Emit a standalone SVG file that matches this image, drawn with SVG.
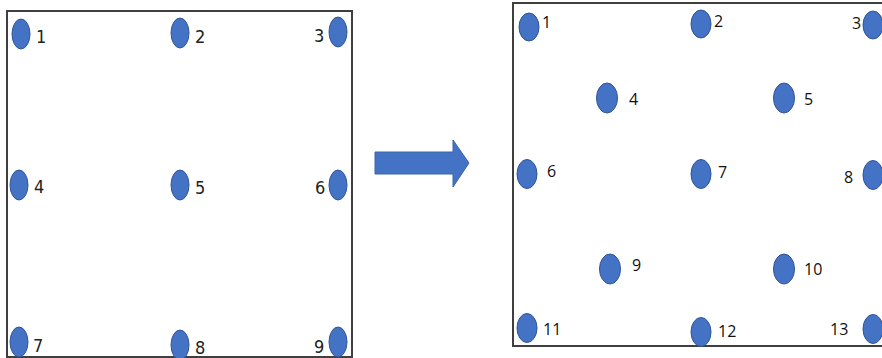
<svg xmlns="http://www.w3.org/2000/svg" width="882" height="358" viewBox="0 0 882 358">
<style>
.box{fill:none;stroke:#3f3f3f;stroke-width:2}
.pt{fill:#4472C4;stroke:#2F5597;stroke-width:1}
.l{font-family:"DejaVu Sans Condensed","Liberation Sans",sans-serif;font-size:18px;fill:#222}
.r{font-family:"Open Sans","Liberation Sans",sans-serif;font-size:16px;fill:#111}
</style>
<rect width="882" height="358" fill="#fff"/>
<g id="left-frame"><rect class="box" x="7" y="11" width="345" height="346"/></g>
<g id="right-frame"><rect class="box" x="513" y="3" width="380" height="343"/></g>
<g id="connectors">
<polygon points="375,152 453,152 453,140 469,163 453,187 453,174 375,174" fill="#4472C4" stroke="#3A64AE" stroke-width="1"/>
</g>
<g id="L1"><ellipse class="pt" cx="21" cy="34" rx="9" ry="15"/><text class="l" x="36" y="43">1</text></g>
<g id="L2"><ellipse class="pt" cx="180" cy="33" rx="9" ry="15"/><text class="l" x="195" y="43">2</text></g>
<g id="L3"><ellipse class="pt" cx="338" cy="32" rx="9" ry="15"/><text class="l" x="314" y="42">3</text></g>
<g id="L4"><ellipse class="pt" cx="19" cy="185" rx="9" ry="15"/><text class="l" x="34" y="193">4</text></g>
<g id="L5"><ellipse class="pt" cx="180" cy="185" rx="9" ry="15"/><text class="l" x="195" y="194">5</text></g>
<g id="L6"><ellipse class="pt" cx="338" cy="185" rx="9" ry="15"/><text class="l" x="315" y="194">6</text></g>
<g id="L7"><ellipse class="pt" cx="19" cy="342" rx="9" ry="15"/><text class="l" x="33" y="352">7</text></g>
<g id="L8"><ellipse class="pt" cx="180" cy="345" rx="9" ry="15"/><text class="l" x="195" y="354">8</text></g>
<g id="L9"><ellipse class="pt" cx="338" cy="342" rx="9" ry="15"/><text class="l" x="314" y="353">9</text></g>
<g id="R1"><ellipse class="pt" cx="529" cy="27" rx="10" ry="14"/><text class="r" x="542" y="28">1</text></g>
<g id="R2"><ellipse class="pt" cx="701" cy="24" rx="10" ry="14"/><text class="r" x="714" y="27">2</text></g>
<g id="R3"><ellipse class="pt" cx="873" cy="25" rx="10" ry="14"/><text class="r" x="852" y="29">3</text></g>
<g id="R4"><ellipse class="pt" cx="607" cy="98" rx="10.5" ry="15"/><text class="r" x="629" y="105">4</text></g>
<g id="R5"><ellipse class="pt" cx="784" cy="98" rx="10.5" ry="15"/><text class="r" x="804" y="105">5</text></g>
<g id="R6"><ellipse class="pt" cx="527" cy="174" rx="10" ry="14.5"/><text class="r" x="547" y="177">6</text></g>
<g id="R7"><ellipse class="pt" cx="701" cy="174" rx="10" ry="14.5"/><text class="r" x="718" y="178">7</text></g>
<g id="R8"><ellipse class="pt" cx="873" cy="175" rx="10" ry="14.5"/><text class="r" x="844" y="183">8</text></g>
<g id="R9"><ellipse class="pt" cx="610" cy="269" rx="10.5" ry="15"/><text class="r" x="632" y="271">9</text></g>
<g id="R10"><ellipse class="pt" cx="784" cy="269" rx="10.5" ry="15"/><text class="r" x="804" y="275">10</text></g>
<g id="R11"><ellipse class="pt" cx="527" cy="328" rx="10" ry="14.5"/><text class="r" x="543" y="335">11</text></g>
<g id="R12"><ellipse class="pt" cx="701" cy="332" rx="10" ry="14.5"/><text class="r" x="718" y="337">12</text></g>
<g id="R13"><ellipse class="pt" cx="873" cy="329" rx="10" ry="14.5"/><text class="r" x="830" y="335">13</text></g>
</svg>
